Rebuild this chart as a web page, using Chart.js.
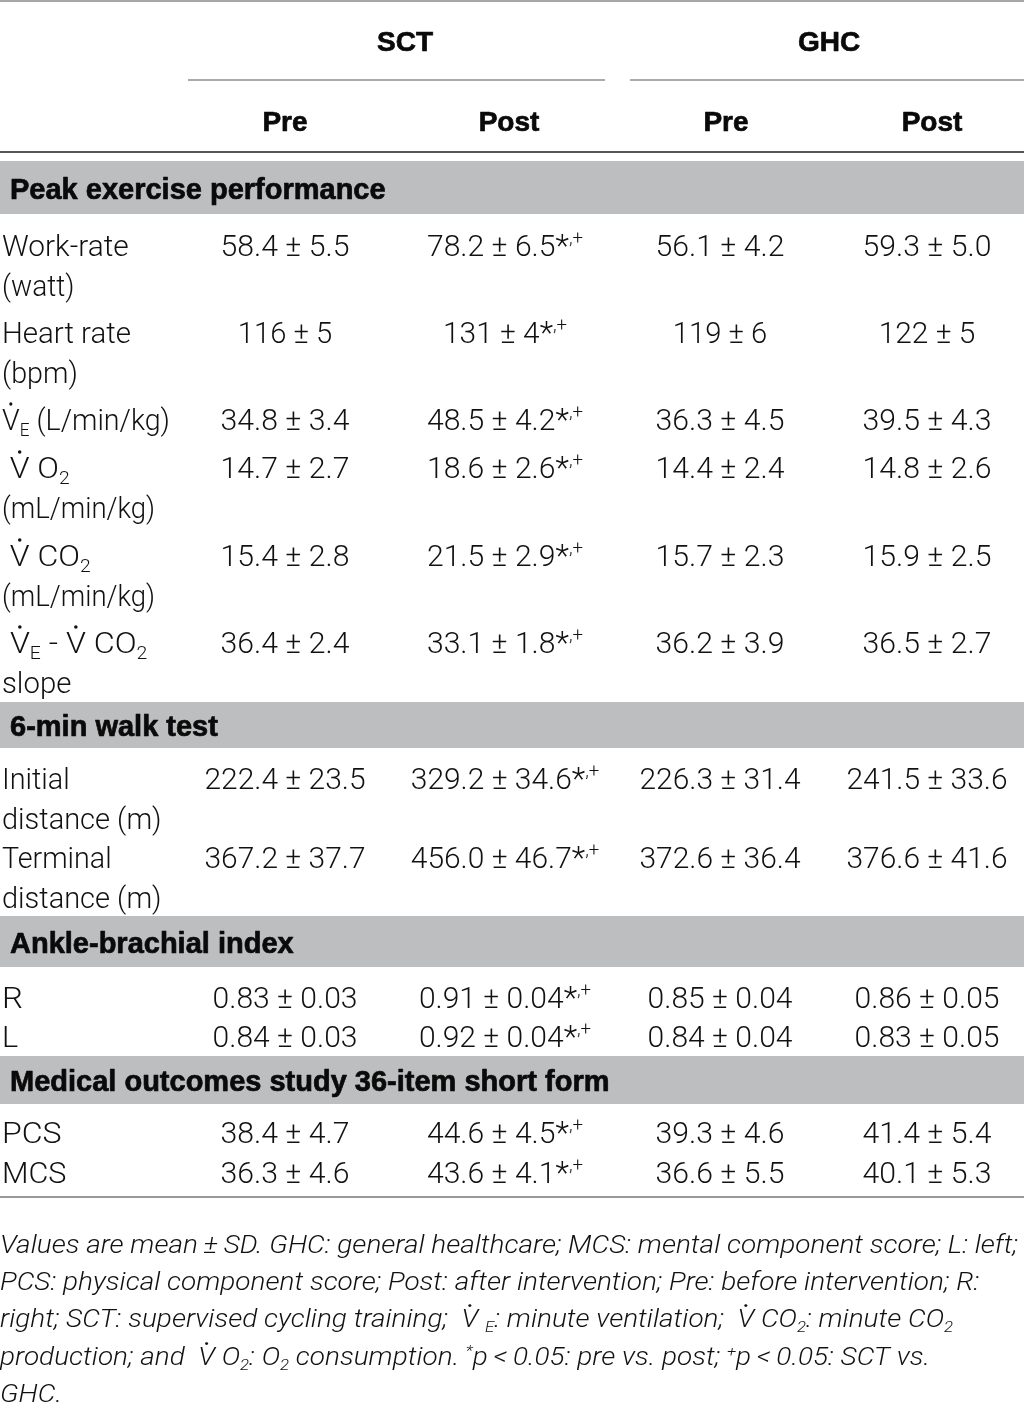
<!DOCTYPE html>
<html><head><meta charset="utf-8">
<script src="https://cdn.jsdelivr.net/npm/chart.js@4"></script>
<style>html,body{margin:0;padding:0;background:#fff}#wrap{width:1024px;height:1403px;position:relative}canvas{display:block}</style>
</head><body><div id="wrap"><canvas id="c" width="1024" height="1403"></canvas></div>
<script>
// ---------- DATA ----------
const groupLabels = ['SCT', 'GHC'];
const phaseLabels = ['Pre', 'Post', 'Pre', 'Post'];
const sectionTitles = ['Peak exercise performance', '6-min walk test', 'Ankle-brachial index', 'Medical outcomes study 36-item short form'];
// row labels: ~V = dotted V, _{..} subscript, ^{..} superscript
const rowLabels = [
  ['Work-rate', '(watt)'],
  ['Heart rate', '(bpm)'],
  ['~V_{E} (L/min/kg)'],
  [' ~V O_{2}', '(mL/min/kg)'],
  [' ~V CO_{2}', '(mL/min/kg)'],
  [' ~V_{E} - ~V CO_{2}', 'slope'],
  ['Initial', 'distance (m)'],
  ['Terminal', 'distance (m)'],
  ['R'], ['L'], ['PCS'], ['MCS']
];
const rowDecimals = [1, 0, 1, 1, 1, 1, 1, 1, 2, 2, 1, 1];
const sctPreMean  = [58.4, 116, 34.8, 14.7, 15.4, 36.4, 222.4, 367.2, 0.83, 0.84, 38.4, 36.3];
const sctPreSD    = [5.5, 5, 3.4, 2.7, 2.8, 2.4, 23.5, 37.7, 0.03, 0.03, 4.7, 4.6];
const sctPostMean = [78.2, 131, 48.5, 18.6, 21.5, 33.1, 329.2, 456.0, 0.91, 0.92, 44.6, 43.6];
const sctPostSD   = [6.5, 4, 4.2, 2.6, 2.9, 1.8, 34.6, 46.7, 0.04, 0.04, 4.5, 4.1];
const ghcPreMean  = [56.1, 119, 36.3, 14.4, 15.7, 36.2, 226.3, 372.6, 0.85, 0.84, 39.3, 36.6];
const ghcPreSD    = [4.2, 6, 4.5, 2.4, 2.3, 3.9, 31.4, 36.4, 0.04, 0.04, 4.6, 5.5];
const ghcPostMean = [59.3, 122, 39.5, 14.8, 15.9, 36.5, 241.5, 376.6, 0.86, 0.83, 41.4, 40.1];
const ghcPostSD   = [5.0, 5, 4.3, 2.6, 2.5, 2.7, 33.6, 41.6, 0.05, 0.05, 5.4, 5.3];
const sctPostMark = ['*,+', '*,+', '*,+', '*,+', '*,+', '*,+', '*,+', '*,+', '*,+', '*,+', '*,+', '*,+'];
const footnoteLines = [
  'Values are mean\u2009±\u2009SD. GHC: general healthcare; MCS: mental component score; L: left;',
  'PCS: physical component score; Post: after intervention; Pre: before intervention; R:',
  'right; SCT: supervised cycling training;  ~V _{E}: minute ventilation;  ~V CO_{2}: minute CO_{2}',
  'production; and  ~V O_{2}: O_{2} consumption. ^{*}p\u2009<\u20090.05: pre vs. post; ^{+}p\u2009<\u20090.05: SCT vs.',
  'GHC.'
];

// ---------- LAYOUT ----------
const L = {
  groupX: [405, 829], groupY: 41,
  spans: [[188, 605], [630, 1024]], spanY: 80,
  phaseX: [285, 509, 726, 932], phaseY: 121,
  headRuleY: 152, topRuleY: 1, bottomRuleY: 1197,
  bands: [[161, 214], [702, 748], [916, 967], [1056, 1104]],
  rowY: [245, 332, 419, 467, 555, 642, 778, 857, 997, 1036, 1132, 1172],
  lineGap: 40,
  colX: [285, 505, 720, 927],
  labelX: 2,
  footY: [1244, 1281, 1318, 1356, 1393], footW: 1018
};
const FAM = 'Roboto, "Liberation Sans", Arial, sans-serif';
const LIB = '"Liberation Sans", Arial, sans-serif';

function parseRich(s) {
  const segs = []; let i = 0, buf = '';
  const flush = () => { if (buf) { segs.push({ k: 'n', t: buf }); buf = ''; } };
  while (i < s.length) {
    const c = s[i];
    if (c === '~' && s[i + 1] === 'V') { flush(); segs.push({ k: 'v', t: 'V' }); i += 2; continue; }
    if ((c === '_' || c === '^') && s[i + 1] === '{') {
      flush(); const j = s.indexOf('}', i);
      segs.push({ k: c === '_' ? 'sub' : 'sup', t: s.slice(i + 2, j) }); i = j + 1; continue;
    }
    buf += c; i++;
  }
  flush(); return segs;
}
function fontStr(f, size, fam) { return (f.style || '') + ' ' + (f.weight || 400) + ' ' + size + 'px ' + (fam || f.family || FAM); }
function segStyle(s, f, base) {
  if (s.k === 'sub') return { sz: base * (f.ss || 0.6), dy: base * 0.2 };
  if (s.k === 'sup') {
    if (s.t === '*' && f.star) return { sz: base * f.star[0], dy: -base * f.star[1] };
    return { sz: base * (f.ss || 0.6), dy: -base * (f.supDy || 0.38) };
  }
  return { sz: base, dy: 0 };
}
function richWidth(ctx, segs, f, fam, size) {
  let w = 0; const base = size || f.size;
  for (const s of segs) {
    const st = segStyle(s, f, base);
    ctx.font = fontStr(f, st.sz, fam); w += ctx.measureText(s.t).width;
  }
  return w;
}
function drawRich(ctx, str, x, yc, f, align, hs) {
  const segs = parseRich(str);
  const wNat = richWidth(ctx, segs, f);
  if (!hs) hs = f.match ? richWidth(ctx, segs, f, f.match.family, f.match.size) / wNat : 1;
  const w = wNat * hs;
  let sx = align === 'center' ? x - w / 2 : (align === 'right' ? x - w : x);
  const base = yc + f.size * 0.36;
  ctx.save();
  ctx.translate(sx, base); ctx.scale(hs, 1);
  ctx.fillStyle = f.color || '#111'; ctx.strokeStyle = f.color || '#111';
  ctx.textAlign = 'left'; ctx.textBaseline = 'alphabetic'; ctx.lineJoin = 'round';
  let cx = 0;
  for (const s of segs) {
    const st = segStyle(s, f, f.size);
    ctx.font = fontStr(f, st.sz);
    const tw = ctx.measureText(s.t).width;
    ctx.fillText(s.t, cx, st.dy);
    if (f.stroke) { ctx.lineWidth = f.stroke; ctx.strokeText(s.t, cx, st.dy); }
    if (s.k === 'v') {
      ctx.beginPath();
      ctx.arc(cx + tw / 2, -f.size * 0.86, f.size * 0.055, 0, Math.PI * 2);
      ctx.fill();
    }
    cx += tw;
  }
  ctx.restore();
  return w;
}
function fmt(m, sd, d) { return m.toFixed(d) + ' ± ' + sd.toFixed(d); }
function markup(mark) { return mark ? '^{' + mark[0] + '}^{' + mark.slice(1) + '}' : ''; }

const tablePlugin = {
  id: 'tablePlugin',
  afterDraw(chart) {
    const ctx = chart.ctx, X = v => chart.scales.x.getPixelForValue(v), Y = v => chart.scales.y.getPixelForValue(v);
    ctx.save();
    const hline = (y, x0, x1, col, lw) => { ctx.strokeStyle = col; ctx.lineWidth = lw; ctx.beginPath(); ctx.moveTo(X(x0), Y(y)); ctx.lineTo(X(x1), Y(y)); ctx.stroke(); };
    hline(L.topRuleY, 0, 1024, '#8a8a8a', 1.5);
    L.spans.forEach(s => hline(L.spanY, s[0], s[1], '#8f8f8f', 1.5));
    hline(L.headRuleY, 0, 1024, '#555', 2);
    hline(L.bottomRuleY, 0, 1024, '#777', 1.5);
    ctx.fillStyle = '#bdbec0';
    L.bands.forEach(b => ctx.fillRect(X(0), Y(b[0]), X(1024) - X(0), Y(b[1]) - Y(b[0])));
    // headers
    const hb = { size: 28, weight: 700, family: LIB, color: '#0a0a0a', stroke: 0.7 };
    groupLabels.forEach((g, i) => drawRich(ctx, g, X(L.groupX[i]), Y(L.groupY), hb, 'center'));
    phaseLabels.forEach((p, i) => drawRich(ctx, p, X(L.phaseX[i]), Y(L.phaseY), hb, 'center'));
    const sb = { size: 29, weight: 700, family: LIB, color: '#0a0a0a', stroke: 0.7 };
    sectionTitles.forEach((t, i) => drawRich(ctx, t, X(10), Y((L.bands[i][0] + L.bands[i][1]) / 2 + 1), sb, 'left'));
    // rows
    const body = { size: 30, weight: 300, match: { family: LIB, size: 29 } };
    const cell = { size: 30, weight: 300, ss: 0.62, supDy: 0.4, star: [1.05, 0.0], match: { family: LIB, size: 29 } };
    const cols = [[sctPreMean, sctPreSD], [sctPostMean, sctPostSD], [ghcPreMean, ghcPreSD], [ghcPostMean, ghcPostSD]];
    rowLabels.forEach((lines, r) => {
      lines.forEach((ln, k) => drawRich(ctx, ln, X(L.labelX), Y(L.rowY[r] + k * L.lineGap), body, 'left'));
      cols.forEach((c, ci) => {
        let s = fmt(c[0][r], c[1][r], rowDecimals[r]);
        if (ci === 1) s += markup(sctPostMark[r]);
        drawRich(ctx, s, X(L.colX[ci]), Y(L.rowY[r]), cell, 'center');
      });
    });
    // footnote
    const ft = { size: 25, weight: 300, style: 'italic' };
    const w0 = richWidth(ctx, parseRich(footnoteLines[0]), ft);
    const hs = Math.min(1.2, L.footW / w0);
    footnoteLines.forEach((ln, i) => drawRich(ctx, ln, X(0), Y(L.footY[i]), ft, 'left', hs));
    ctx.restore();
  }
};

new Chart(document.getElementById('c'), {
  type: 'scatter',
  data: { datasets: [{ data: [] }] },
  options: {
    responsive: false, animation: false, devicePixelRatio: 1,
    layout: { padding: 0 },
    plugins: { legend: { display: false }, tooltip: { enabled: false } },
    scales: {
      x: { type: 'linear', min: 0, max: 1024, display: false },
      y: { type: 'linear', min: 0, max: 1403, reverse: true, display: false }
    }
  },
  plugins: [tablePlugin]
});
</script></body></html>
